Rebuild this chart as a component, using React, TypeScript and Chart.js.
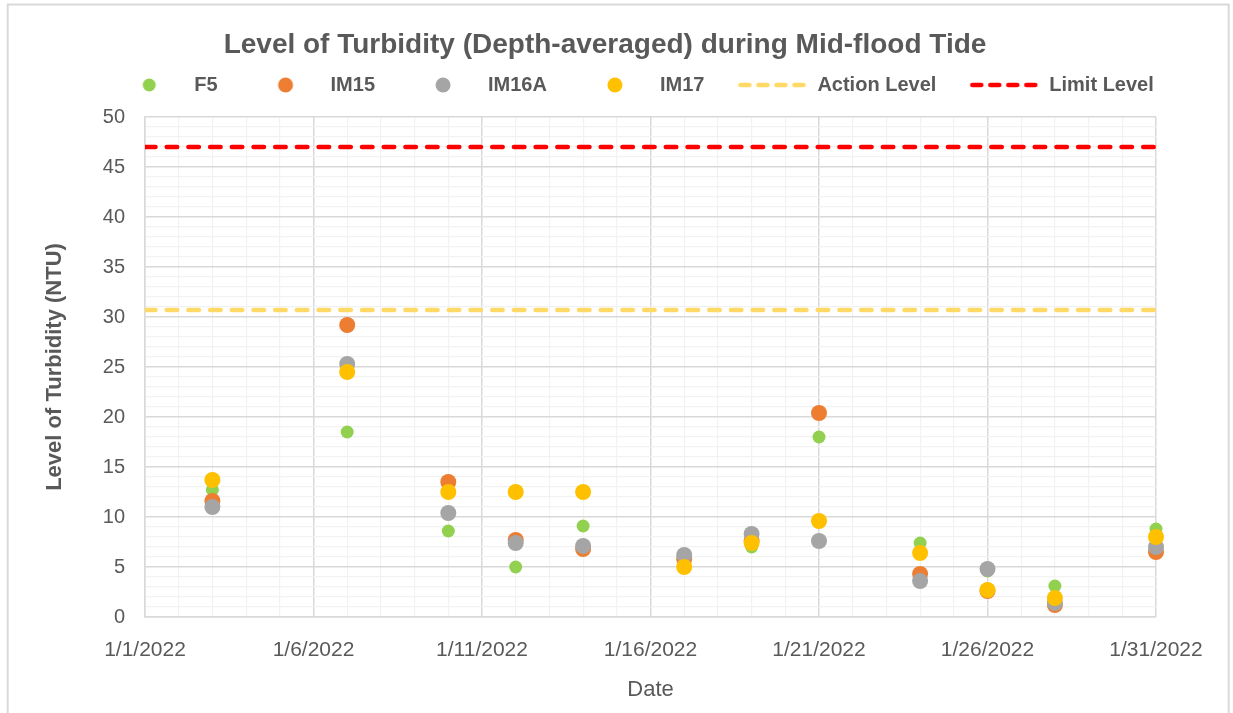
import React, { useEffect, useRef } from "react";
import { Chart, registerables } from "chart.js";

Chart.register(...registerables);

// ---------- data ----------
const chartTitle = "Level of Turbidity (Depth-averaged) during Mid-flood Tide";
const xAxisTitle = "Date";
const yAxisTitle = "Level of Turbidity (NTU)";

// sampling days in January 2022
const sampleDays = [3, 7, 10, 12, 14, 17, 19, 21, 24, 26, 28, 31];
const f5Values = [12.7, 18.5, 8.6, 5.0, 9.1, 5.2, 7.0, 18.0, 7.4, 4.6, 3.1, 8.8];
const im15Values = [11.6, 29.2, 13.5, 7.7, 6.8, 5.8, 7.6, 20.4, 4.3, 2.6, 1.2, 6.5];
const im16aValues = [11.0, 25.3, 10.4, 7.4, 7.1, 6.2, 8.3, 7.6, 3.6, 4.8, 1.4, 7.0];
const im17Values = [13.7, 24.5, 12.5, 12.5, 12.5, 5.0, 7.4, 9.6, 6.4, 2.7, 1.9, 8.0];

const actionLevel = 30.7;
const limitLevel = 47;
const levelDays = [1, 31];

const seriesNames = ["F5", "IM15", "IM16A", "IM17", "Action Level", "Limit Level"];
const xTickDays = [1, 6, 11, 16, 21, 26, 31];
const yTickValues = [0, 5, 10, 15, 20, 25, 30, 35, 40, 45, 50];

// ---------- styles ----------
const FONT = "'Liberation Sans', Arial, sans-serif";
const TEXT = "#595959";
const COLORS = ["#92d050", "#ed7d31", "#a5a5a5", "#ffc000", "#ffd966", "#ff0000"];
const RADII = [6.5, 8, 8, 8];
const DASH = [10.5, 11.2];

function dotKey(color: string, r: number) {
  const c = document.createElement("canvas");
  c.width = 70;
  c.height = 20;
  const g = c.getContext("2d")!;
  g.fillStyle = color;
  g.beginPath();
  g.arc(35, 10, r, 0, Math.PI * 2);
  g.fill();
  return c;
}

function lineKey(color: string) {
  const c = document.createElement("canvas");
  c.width = 70;
  c.height = 20;
  const g = c.getContext("2d")!;
  g.strokeStyle = color;
  g.lineWidth = 4.5;
  g.lineCap = "round";
  g.setLineDash([9, 9]);
  g.beginPath();
  g.moveTo(3, 10);
  g.lineTo(67, 10);
  g.stroke();
  return c;
}

const framePlugin = {
  id: "frame",
  beforeDraw(chart: any) {
    const { ctx, width, height } = chart;
    ctx.save();
    ctx.fillStyle = "#ffffff";
    ctx.fillRect(0, 0, width, height);
    ctx.strokeStyle = "#d9d9d9";
    ctx.lineWidth = 2;
    ctx.strokeRect(7.7, 4.5, width - 12, height + 40);
    ctx.restore();
  },
};

const legendShiftPlugin = {
  id: "legendShift",
  afterLayout(chart: any) {
    const lg = chart.legend;
    if (!lg) return;
    lg.left += 29;
    lg.right += 29;
    lg.top -= 17;
    lg.bottom -= 17;
  },
};

export default function App() {
  const ref = useRef<HTMLCanvasElement>(null);

  useEffect(() => {
    if (!ref.current) return;
    const pointSeries = [f5Values, im15Values, im16aValues, im17Values];
    const pointDatasets = pointSeries.map((vals, i) => ({
      label: seriesNames[i],
      data: sampleDays.map((d, j) => ({ x: d, y: vals[j] })),
      backgroundColor: COLORS[i],
      borderColor: COLORS[i],
      borderWidth: 0,
      pointRadius: RADII[i],
      pointHoverRadius: RADII[i],
      pointBorderWidth: 0,
      showLine: false,
      clip: false,
      order: 6 - i,
    }));
    const levelDatasets = [actionLevel, limitLevel].map((lvl, k) => ({
      label: seriesNames[4 + k],
      data: levelDays.map((d) => ({ x: d, y: lvl })),
      showLine: true,
      borderColor: COLORS[4 + k],
      backgroundColor: COLORS[4 + k],
      borderWidth: 4.5,
      borderDash: DASH,
      borderCapStyle: "round",
      pointRadius: 0,
      pointHoverRadius: 0,
      order: 2 - k,
    }));

    const keys = [
      dotKey(COLORS[0], 6.5),
      dotKey(COLORS[1], 7.5),
      dotKey(COLORS[2], 7.5),
      dotKey(COLORS[3], 7.5),
      lineKey(COLORS[4]),
      lineKey(COLORS[5]),
    ];

    const gridColor = (isMajor: boolean) => (isMajor ? "#d9d9d9" : "#f2f2f2");

    const chart = new Chart(ref.current, {
      type: "scatter",
      data: { datasets: [...pointDatasets, ...levelDatasets] as any },
      options: {
        responsive: false,
        animation: false,
        layout: { padding: { left: 0, right: 23, top: 0, bottom: 0 } },
        plugins: {
          title: {
            display: true,
            text: chartTitle,
            color: TEXT,
            font: { family: FONT, size: 28, weight: "bold", lineHeight: 1 },
            padding: { top: 31, bottom: 0 },
          },
          legend: {
            display: true,
            position: "top",
            maxHeight: 58,
            labels: {
              usePointStyle: true,
              pointStyleWidth: 70,
              boxHeight: 20,
              padding: 33,
              color: TEXT,
              font: { family: FONT, size: 20, weight: "bold" },
              generateLabels: () =>
                seriesNames.map((name, i) => ({
                  text: name,
                  fillStyle: COLORS[i],
                  strokeStyle: COLORS[i],
                  lineWidth: 0,
                  pointStyle: keys[i] as any,
                  hidden: false,
                  datasetIndex: i,
                  fontColor: TEXT,
                })),
            },
          },
          tooltip: { enabled: false },
        },
        scales: {
          x: {
            type: "linear",
            min: 1,
            max: 31,
            ticks: {
              stepSize: 1,
              autoSkip: false,
              maxRotation: 0,
              minRotation: 0,
              padding: 21,
              color: TEXT,
              font: { family: FONT, size: 21 },
              callback: (v: any) => (xTickDays.includes(Number(v)) ? `1/${v}/2022` : ""),
            },
            grid: {
              drawTicks: false,
              color: (c: any) => gridColor(xTickDays.includes(c.tick?.value)),
              lineWidth: (c: any) => (xTickDays.includes(c.tick?.value) ? 1.5 : 1.2),
            },
            border: { display: true, color: "#d9d9d9", width: 1.5 },
            title: {
              display: true,
              text: xAxisTitle,
              color: TEXT,
              font: { family: FONT, size: 22 },
              padding: { top: 0, bottom: 10 },
            },
            afterFit: (s: any) => {
              s.height = 96;
              s.paddingLeft = 0;
              s.paddingRight = 77;
            },
          },
          y: {
            type: "linear",
            min: 0,
            max: 50,
            ticks: {
              stepSize: 1,
              autoSkip: false,
              padding: 20,
              color: TEXT,
              font: { family: FONT, size: 20 },
              callback: (v: any) => (yTickValues.includes(Number(v)) ? String(v) : ""),
            },
            grid: {
              drawTicks: false,
              color: (c: any) => gridColor(yTickValues.includes(c.tick?.value)),
              lineWidth: (c: any) => (yTickValues.includes(c.tick?.value) ? 1.5 : 1.2),
            },
            border: { display: true, color: "#d9d9d9", width: 1.5 },
            title: {
              display: true,
              text: yAxisTitle,
              color: TEXT,
              font: { family: FONT, size: 22, weight: "bold" },
              padding: { top: 42, bottom: 0 },
            },
            afterFit: (s: any) => {
              s.width = 145;
            },
          },
        },
      } as any,
      plugins: [framePlugin, legendShiftPlugin],
    });

    return () => chart.destroy();
  }, []);

  return (
    <div style={{ position: "absolute", left: 0, top: 0, width: 1233, height: 713, background: "#fff" }}>
      <canvas ref={ref} width={1233} height={713} style={{ display: "block" }} />
    </div>
  );
}
